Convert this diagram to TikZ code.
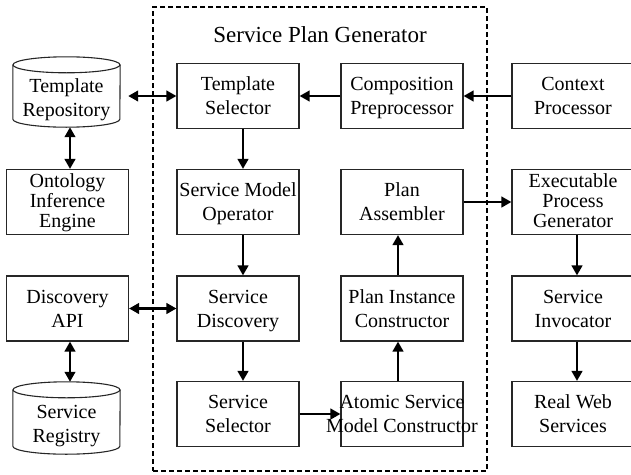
\documentclass[tikz,border=0pt]{standalone}
\usepackage{fontspec}
\setmainfont{Liberation Serif}
\usetikzlibrary{arrows.meta,calc}

\begin{document}
\begin{tikzpicture}[x=1pt,y=1pt,
  boxbase/.style={draw=black!85, line width=1.1pt, minimum width=122pt, minimum height=65pt,
    inner sep=0pt, align=center, text depth=0pt},
  box/.style={boxbase, font=\fontsize{20}{24}\selectfont, text height=37pt},
  boxthree/.style={boxbase, font=\fontsize{20}{20}\selectfont, text height=50pt},
  cyltext/.style={minimum width=107pt, inner sep=0pt, align=center, font=\fontsize{20}{24}\selectfont},
  cylline/.style={draw=black!85, line width=1.1pt},
  tip/.tip={Triangle[length=10pt,width=10.5pt]},
  flow/.style={line width=2.8pt, -tip},
  both/.style={line width=2.8pt, tip-tip},
  frame/.style={draw, line width=1.8pt, dash pattern=on 5pt off 3pt, minimum width=334pt, minimum height=464pt, inner sep=0pt},
]
\useasboundingbox (0,0) rectangle (631,-474);

% generator frame and its title
\node[frame] (gen) at (320,-239) {};
\node[font=\fontsize{23}{26}\selectfont] (title) at (320,-35) {Service Plan Generator};

% left column: repositories and helpers
\node[minimum width=107pt, minimum height=70pt, inner sep=0pt] (repo) at (66.5,-92) {};
\draw[cylline] ([yshift=-8pt]repo.north west) -- ([yshift=8pt]repo.south west)
  arc[start angle=180, end angle=360, x radius=53.5, y radius=8] -- ([yshift=-8pt]repo.north east);
\draw[cylline] ([yshift=-8pt]repo.north) ellipse[x radius=53.5, y radius=8];
\node[cyltext] (repotext) at (66.5,-100) {Template\\Repository};

\node[boxthree] (onto) at (67.5,-202) {Ontology\\Inference\\Engine};
\node[box] (dapi) at (67.5,-308.5) {Discovery\\API};

\node[minimum width=107pt, minimum height=72pt, inner sep=0pt] (reg) at (66.5,-418) {};
\draw[cylline] ([yshift=-8pt]reg.north west) -- ([yshift=8pt]reg.south west)
  arc[start angle=180, end angle=360, x radius=53.5, y radius=8] -- ([yshift=-8pt]reg.north east);
\draw[cylline] ([yshift=-8pt]reg.north) ellipse[x radius=53.5, y radius=8];
\node[cyltext] (regtext) at (66.5,-426) {Service\\Registry};

% generator, first inner column
\node[box] (tsel) at (238,-96) {Template\\Selector};
\node[box] (smo) at (238,-202) {Service Model\\Operator};
\node[box] (sdisc) at (238,-308.5) {Service\\Discovery};
\node[box] (ssel) at (238,-414) {Service\\Selector};

% generator, second inner column
\node[box] (comp) at (402,-96) {Composition\\Preprocessor};
\node[box] (pasm) at (402,-202) {Plan\\Assembler};
\node[box] (pic) at (402,-308.5) {Plan Instance\\Constructor};
\node[box] (atom) at (402,-414) {\makebox[0pt]{Atomic Service}\\\makebox[0pt]{Model Constructor}};

% right column: context and execution
\node[box] (ctx) at (573,-96) {Context\\Processor};
\node[boxthree] (epg) at (573,-202) {Executable\\Process\\Generator};
\node[box] (sinv) at (573,-308.5) {Service\\Invocator};
\node[box] (rws) at (573,-414) {Real Web\\Services};

% connectors
\draw[both] ($(repo.east|-tsel.west)+(8,0)$) -- (tsel.west);
\draw[both] ($(repo.south)+(3.5,0)$) -- ($(onto.north)+(2.5,0)$);
\draw[flow] (comp.west) -- (tsel.east);
\draw[flow] (ctx.west) -- (comp.east);
\draw[flow] ([xshift=5pt]tsel.south) -- ([xshift=5pt]smo.north);
\draw[flow] ([xshift=5pt]smo.south) -- ([xshift=5pt]sdisc.north);
\draw[both] (dapi.east) -- (sdisc.west);
\draw[both] ($(dapi.south)+(2.5,0)$) -- ($(reg.north)+(3.5,0)$);
\draw[flow] ([xshift=5pt]sdisc.south) -- ([xshift=5pt]ssel.north);
\draw[flow] (ssel.east) -- (atom.west);
\draw[flow] ([xshift=-4pt]atom.north) -- ([xshift=-4pt]pic.south);
\draw[flow] ([xshift=-4pt]pic.north) -- ([xshift=-4pt]pasm.south);
\draw[flow] (pasm.east) -- (epg.west);
\draw[flow] ([xshift=4pt]epg.south) -- ([xshift=4pt]sinv.north);
\draw[flow] ([xshift=4pt]sinv.south) -- ([xshift=4pt]rws.north);
\end{tikzpicture}
\end{document}
